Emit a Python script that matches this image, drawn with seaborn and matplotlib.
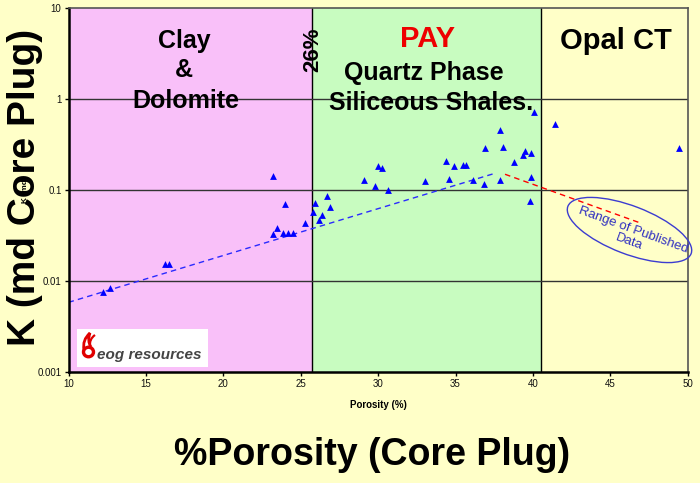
import numpy as np
import pandas as pd
import matplotlib
matplotlib.use("Agg")
import matplotlib.pyplot as plt
from matplotlib.patches import Ellipse, Rectangle
from matplotlib.path import Path
from matplotlib.patches import PathPatch
import seaborn as sns

porosity = [12.2, 12.7, 16.25, 16.5, 23.2, 23.2, 23.45, 23.85, 24.0, 24.15, 24.5,
            25.25, 25.8, 25.95, 26.15, 26.35, 26.7, 26.9,
            29.1, 29.8, 30.0, 30.25, 30.65, 33.0, 34.4, 34.55, 34.9, 35.5, 35.7,
            36.15, 36.85, 36.9, 37.85, 37.9, 38.1, 38.75, 39.35, 39.5, 39.8, 39.85,
            39.9, 40.05, 41.4, 49.45]
perm = [0.0076, 0.0083, 0.0152, 0.0152, 0.143, 0.033, 0.0385, 0.034, 0.0707, 0.034, 0.034,
        0.0436, 0.057, 0.0714, 0.047, 0.0535, 0.085, 0.0655,
        0.13, 0.111, 0.182, 0.176, 0.099, 0.126, 0.209, 0.132, 0.182, 0.19, 0.19,
        0.13, 0.116, 0.292, 0.129, 0.454, 0.30, 0.203, 0.243, 0.268, 0.0757, 0.257,
        0.14, 0.727, 0.532, 0.292]

# trend lines (end points)
trend_phi = [10.0, 37.4]
trend_k = [0.0058, 0.150]
published_phi = [38.2, 47.0]
published_k = [0.149, 0.043]

# facies zones
zone_edges = [10, 25.75, 40.5, 50]
zone_colors = ["#f9c0f9", "#c8fcc0", "#ffffc8"]

y_ticks = [0.001, 0.01, 0.1, 1, 10]
y_tick_labels = ["0.001", "0.01", "0.1", "1", "10"]
x_ticks = [10, 15, 20, 25, 30, 35, 40, 45, 50]

W, H = 700, 483


def fx(x):
    return x / W


def fy(y):
    return 1 - y / H


def pin(x, y):
    # pixel -> inches (bottom-left origin) for dpi_scale_trans
    return x / 100, (H - y) / 100


sns.set_style("ticks")
plt.rcParams["font.family"] = ["Liberation Sans", "DejaVu Sans"]
plt.rcParams["text.color"] = "black"
plt.rcParams["axes.labelcolor"] = "black"

df = pd.DataFrame({"porosity": porosity, "perm": perm})

fig = plt.figure(figsize=(7, 4.83), dpi=100, facecolor="#ffffc8")
ax = fig.add_axes([fx(68.5), fy(371.7), fx(687.7) - fx(68.5), fy(8.3) - fy(371.7)])
ax.set_facecolor("#ffffc8")

for i in range(len(zone_colors)):
    ax.axvspan(zone_edges[i], zone_edges[i + 1], color=zone_colors[i], lw=0, zorder=0)
for e in zone_edges[1:-1]:
    ax.axvline(e, color="black", lw=1, zorder=1)
for t in y_ticks[1:-1]:
    ax.axhline(t, color="#333333", lw=1, zorder=1)

ax.plot(trend_phi, trend_k, color="#2a2aff", lw=1, ls=(0, (4, 3)), zorder=2)
ax.plot(published_phi, published_k, color="red", lw=1, ls=(0, (4, 3)), zorder=2)

sns.scatterplot(data=df, x="porosity", y="perm", marker="^", color="#0000ff",
                s=24, linewidth=0, ax=ax, zorder=3)

ax.set_yscale("log")
ax.set_xlim(10, 50)
ax.set_ylim(0.001, 10)
ax.set_xticks(x_ticks)
ax.set_xticklabels([str(t) for t in x_ticks])
ax.set_yticks(y_ticks)
ax.set_yticklabels(y_tick_labels)
ax.yaxis.set_minor_locator(matplotlib.ticker.NullLocator())
ax.tick_params(axis="both", labelsize=7, length=3, width=1, color="black",
               labelcolor="#111111", pad=2)
ax.set_xlabel("Porosity (%)", fontsize=7, fontweight="bold", labelpad=8)
ax.set_ylabel("K (md)", fontsize=6, fontweight="bold", labelpad=6)

for side in ["left", "bottom"]:
    ax.spines[side].set_color("black")
    ax.spines[side].set_linewidth(1.8)
for side in ["top", "right"]:
    ax.spines[side].set_visible(True)
    ax.spines[side].set_color("#555555")
    ax.spines[side].set_linewidth(1.2)

# zone titles
kw = dict(ha="center", va="center", fontweight="bold", color="black")
fig.text(fx(184), fy(41), "Clay", fontsize=18, **kw)
fig.text(fx(184), fy(70), "&", fontsize=18, **kw)
fig.text(fx(186), fy(101), "Dolomite", fontsize=18, **kw)
fig.text(fx(428), fy(39), "PAY", fontsize=21, **{**kw, "color": "#ee0000"})
fig.text(fx(424), fy(73), "Quartz Phase", fontsize=18, **kw)
fig.text(fx(431), fy(103), "Siliceous Shales.", fontsize=18, **kw)
fig.text(fx(616), fy(41), "Opal CT", fontsize=21, **kw)
fig.text(fx(313), fy(50), "26%", fontsize=16, rotation=90, **kw)

# big axis captions
fig.text(fx(25), fy(187), "K (md Core Plug)", fontsize=28, rotation=90, zorder=5, **kw)
fig.text(fx(372), fy(455), "%Porosity (Core Plug)", fontsize=27, zorder=5, **kw)

# published range annotation
ell = Ellipse(pin(629.5, 230), 1.32, 0.48, angle=-21, fill=False, ec="#3c3cd0", lw=1,
              transform=fig.dpi_scale_trans)
fig.add_artist(ell)
fig.text(fx(631), fy(236), "Range of Published\nData", fontsize=9.5, color="#3030c0",
         rotation=-20, ha="center", va="center", linespacing=1.0,
         rotation_mode="anchor")

# logo
fig.add_artist(Rectangle(pin(77, 367), 1.31, 0.38, transform=fig.dpi_scale_trans,
                         fc="white", ec="none", zorder=4))
ring = Ellipse(pin(88.5, 352), 0.10, 0.095, fill=False, ec="#e00000", lw=2.4,
               transform=fig.dpi_scale_trans, zorder=5)
fig.add_artist(ring)
verts = [pin(84, 350), pin(82, 340), pin(90, 333),
         pin(87, 341), pin(91, 347)]
codes = [Path.MOVETO, Path.CURVE3, Path.CURVE3, Path.CURVE3, Path.CURVE3]
fig.add_artist(PathPatch(Path(verts, codes), fill=False, ec="#e00000", lw=2,
                         transform=fig.dpi_scale_trans, zorder=5))
verts2 = [pin(90, 347), pin(89, 339), pin(95, 335)]
fig.add_artist(PathPatch(Path(verts2, [Path.MOVETO, Path.CURVE3, Path.CURVE3]),
                         fill=False, ec="#e00000", lw=1.6,
                         transform=fig.dpi_scale_trans, zorder=5))
fig.text(fx(149), fy(355), "eog resources", fontsize=11, fontweight="bold",
         fontstyle="italic", color="#444444", ha="center", va="center", zorder=6)

fig.savefig("out.png", dpi=100, facecolor=fig.get_facecolor())
